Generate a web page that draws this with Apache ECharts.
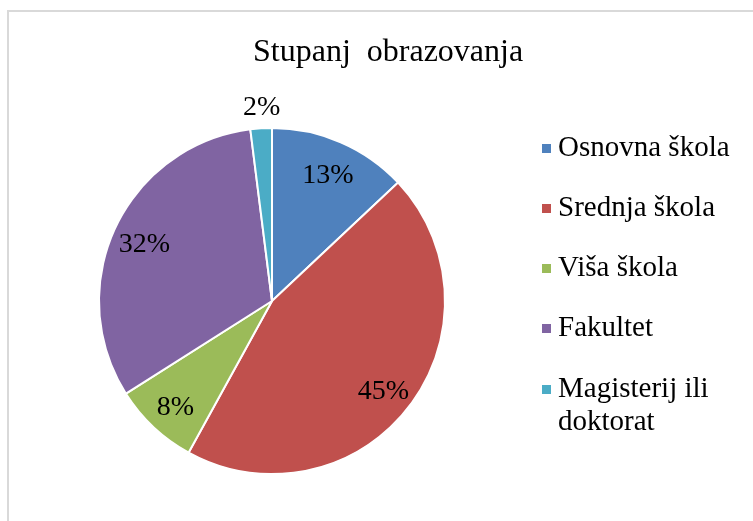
<!DOCTYPE html>
<html>
<head>
<meta charset="utf-8">
<script src="https://cdn.jsdelivr.net/npm/echarts@6/dist/echarts.min.js"></script>
<style>
html,body{margin:0;padding:0;background:#fff;}
#chart{width:753px;height:521px;}
</style>
</head>
<body>
<div id="chart"></div>
<script>
var titleText = 'Stupanj  obrazovanja';
var categories = ['Osnovna škola', 'Srednja škola', 'Viša škola', 'Fakultet', 'Magisterij ili doktorat'];
var values = [13, 45, 8, 32, 2];
var colors = ['#4F81BD', '#C0504D', '#9BBB59', '#8064A2', '#4BACC6'];
var outsideLabelNames = ['Magisterij ili doktorat'];
var wrappedLegendNames = ['Magisterij ili doktorat'];

var FONT = '"Liberation Serif", "Times New Roman", serif';
var CX = 272, CY = 301, R = 173;

function pct(p) { return p.value + '%'; }

var mainData = categories.map(function (c, i) {
  return { name: c, value: values[i], itemStyle: { color: colors[i] } };
});
var innerLabelData = categories.map(function (c, i) {
  return { name: c, value: values[i], label: { show: outsideLabelNames.indexOf(c) < 0 } };
});
var outerLabelData = categories.map(function (c, i) {
  return { name: c, value: values[i], label: { show: outsideLabelNames.indexOf(c) >= 0 } };
});

var legendTextStyle = { fontFamily: FONT, fontSize: 29, lineHeight: 33, color: '#000', padding: [0, 0, 0, 2] };
var legendCommon = {
  orient: 'vertical',
  left: 542,
  padding: 0,
  itemGap: 27,
  itemWidth: 9,
  itemHeight: 9,
  icon: 'rect',
  selectedMode: false,
  itemStyle: { borderWidth: 0 }
};

var chart = echarts.init(document.getElementById('chart'), null, { renderer: 'canvas' });
chart.setOption({
  animation: false,
  backgroundColor: '#fff',
  graphic: [{
    type: 'rect',
    silent: true,
    shape: { x: 8, y: 11, width: 800, height: 600 },
    style: { fill: 'none', stroke: '#d9d9d9', lineWidth: 2 }
  }],
  title: {
    text: titleText,
    left: 253,
    top: 36,
    padding: 0,
    textStyle: { fontFamily: FONT, fontSize: 32, fontWeight: 'normal', color: '#000', lineHeight: 34 }
  },
  legend: [
    Object.assign({}, legendCommon, {
      top: 132,
      data: categories.filter(function (c) { return wrappedLegendNames.indexOf(c) < 0; }),
      textStyle: legendTextStyle
    }),
    Object.assign({}, legendCommon, {
      top: 340,
      data: wrappedLegendNames,
      formatter: function (name) { return '\n' + name.replace('ili ', 'ili\n'); },
      textStyle: legendTextStyle
    })
  ],
  series: [{
    type: 'pie',
    center: [CX, CY],
    radius: [0, R],
    startAngle: 90,
    clockwise: true,
    label: { show: false },
    labelLine: { show: false },
    emphasis: { disabled: true },
    itemStyle: { borderColor: '#fff', borderWidth: 2 },
    data: mainData
  }, {
    type: 'pie',
    center: [CX, CY],
    radius: [103, R],
    startAngle: 90,
    clockwise: true,
    silent: true,
    emphasis: { disabled: true },
    itemStyle: { color: 'rgba(0,0,0,0)', borderWidth: 0 },
    label: { position: 'inside', rotate: 0, offset: [0, 4], formatter: pct, fontFamily: FONT, fontSize: 28, color: '#000' },
    labelLine: { show: false },
    data: innerLabelData
  }, {
    type: 'pie',
    center: [CX, CY],
    radius: [R, 217],
    startAngle: 90,
    clockwise: true,
    silent: true,
    emphasis: { disabled: true },
    itemStyle: { color: 'rgba(0,0,0,0)', borderWidth: 0 },
    label: { position: 'inside', rotate: 0, offset: [2, 4], formatter: pct, fontFamily: FONT, fontSize: 28, color: '#000' },
    labelLine: { show: false },
    data: outerLabelData
  }]
});
</script>
</body>
</html>
